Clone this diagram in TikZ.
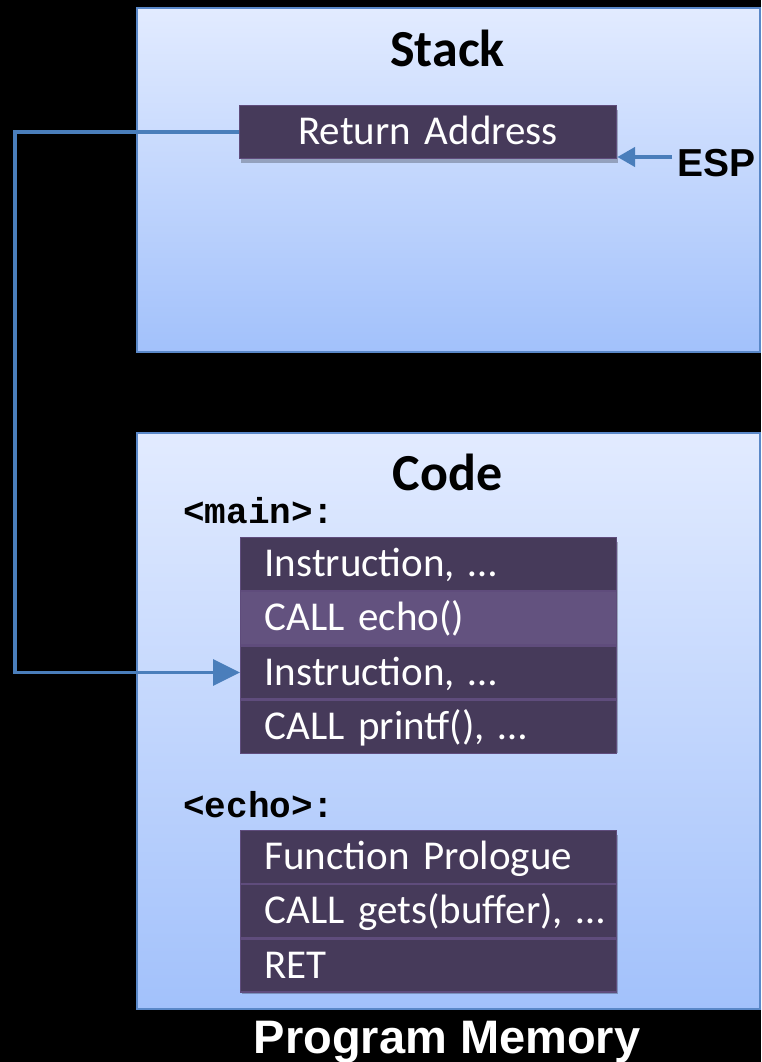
\documentclass[tikz,border=0pt]{standalone}
\usepackage{fontspec}
\setmainfont{Carlito}[WordSpace=0.8]
\newfontfamily\arialfont{Liberation Sans}
\newfontfamily\courfont{Liberation Mono}
\usetikzlibrary{arrows.meta,shadows}
\definecolor{memtop}{HTML}{E2EBFF}
\definecolor{membot}{HTML}{A2C1FB}
\definecolor{memedge}{HTML}{5A88C8}
\definecolor{instr}{HTML}{463A5A}
\definecolor{instrhi}{HTML}{63527F}
\definecolor{instredge}{HTML}{5F4C7C}
\definecolor{link}{HTML}{4A7EBB}
\begin{document}
\begin{tikzpicture}[x=1pt,y=-1pt,
  mem/.style={draw=memedge, line width=2pt, top color=memtop, bottom color=membot,
    anchor=north west, inner sep=0pt, minimum width=623pt},
  titletext/.style={font=\fontsize{52}{56}\selectfont\bfseries, text=black, anchor=base, inner sep=0pt},
  fnlabel/.style={font=\courfont\bfseries\fontsize{36}{40}\selectfont, anchor=base west, inner sep=0pt, text=black},
  grp/.style={fill=instr, draw=none, minimum width=376pt, anchor=north west, inner sep=0pt,
    drop shadow={shadow xshift=2pt, shadow yshift=-5pt, opacity=0.25, fill=black}},
  rowbase/.style={fill=instr, draw=instredge, line width=1.2pt, minimum height=53pt, anchor=north west,
    inner xsep=0pt, inner ysep=0pt, text width=376pt, text=white,
    text height=34pt, text depth=9pt, font=\fontsize{41}{44}\selectfont},
  row/.style={rowbase, align=left, execute at begin node={\hspace*{24pt}}},
  hirow/.style={row, fill=instrhi},
  link/.style={draw=link, line width=3.5pt},
  bigtext/.style={font=\arialfont\bfseries\fontsize{47}{50}\selectfont, inner sep=0pt, anchor=base}
]
\fill[black] (0,0) rectangle (761,1062);
\useasboundingbox (0,0) rectangle (761,1062);

% Stack region
\node[mem, minimum height=344pt] (stack) at (136,7) {};
\node[titletext] (stacktitle) at (447.5,67) {Stack};
\node[grp, minimum height=53pt, minimum width=377pt] (raback) at (239,105) {};
\node[rowbase, align=center, text width=377pt] (ra) at (239,105) {Return Address};

% Code region
\node[mem, minimum height=576pt] (code) at (136,432) {};
\node[titletext] (codetitle) at (447.5,490) {Code};
\node[fnlabel] (mainlbl) at (183,523) {<main>:};
\node[grp, minimum height=211pt] (mainbox) at (240,537) {};
\node[row] (m1) at (240,537) {Instruction, …};
\node[hirow] (m2) at (m1.south west) {CALL echo()};
\node[row] (m3) at (m2.south west) {Instruction, …};
\node[row] (m4) at (m3.south west) {CALL printf(), …};

\node[fnlabel] (echolbl) at (183,817) {<echo>:};
\node[grp, minimum height=159pt] (echobox) at (240,830) {};
\node[row] (e1) at (240,830) {Function Prologue};
\node[row] (e2) at (e1.south west) {CALL gets(buffer), …};
\node[row] (e3) at (e2.south west) {RET};

% ESP
\node[font=\arialfont\bfseries\fontsize{39}{42}\selectfont, anchor=base west, inner sep=0pt] (esp) at (677,176) {ESP};
\coordinate (espa) at (672,157);
\draw[link, line width=4.5pt, -{Triangle[length=18pt,width=19pt]}] (espa) -- (espa -| ra.east);

% return link
\coordinate (bend) at (15,0);
\draw[link, -{Triangle[length=27pt,width=26pt]}] (ra.west) -- (ra.west -| bend) |- (m3.west);

% caption
\node[bigtext, text=white] (caption) at (447,1053) {Program Memory};
\end{tikzpicture}
\end{document}
